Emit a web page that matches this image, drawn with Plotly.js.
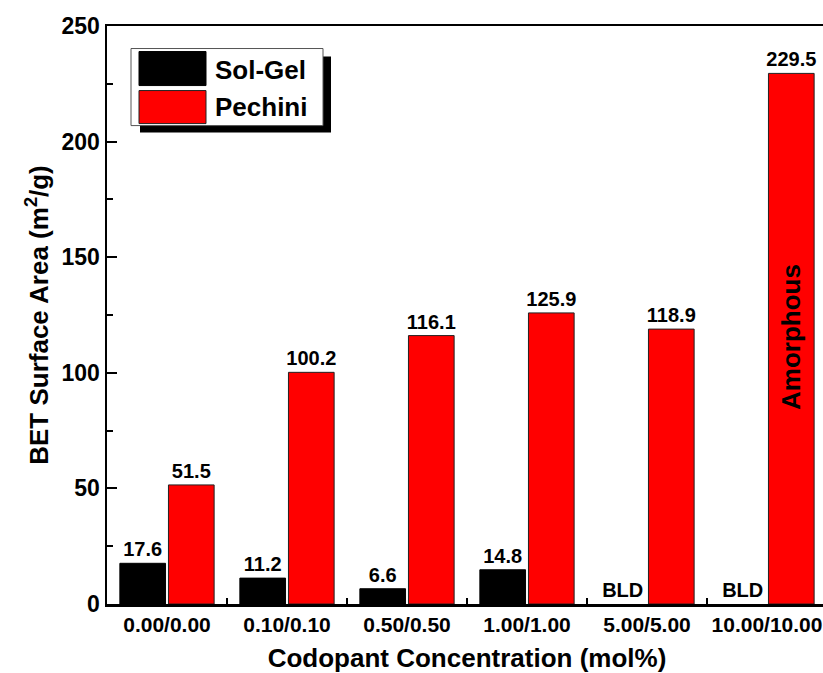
<!DOCTYPE html>
<html>
<head>
<meta charset="utf-8">
<script src="https://cdn.plot.ly/plotly-3.0.1.min.js"></script>
<style>
html, body { margin: 0; padding: 0; overflow: hidden; background: #fff; }
#chart { width: 840px; height: 673px; }
</style>
</head>
<body>
<div id="chart"></div>
<script>
// ---- data ----
const categories = ["0.00/0.00", "0.10/0.10", "0.50/0.50", "1.00/1.00", "5.00/5.00", "10.00/10.00"];
const solGelValues = [17.6, 11.2, 6.6, 14.8, 0, 0];
const solGelLabels = ["17.6", "11.2", "6.6", "14.8", "BLD", "BLD"];
const pechiniValues = [51.5, 100.2, 116.1, 125.9, 118.9, 229.5];
const pechiniLabels = ["51.5", "100.2", "116.1", "125.9", "118.9", "229.5"];
const seriesNames = ["Sol-Gel", "Pechini"];
const yTicks = [0, 50, 100, 150, 200, 250];
const amorphousNote = "Amorphous";

const FONT = "Arial, 'Liberation Sans', sans-serif";
const bold = (size) => ({ family: FONT, size: size, color: "#000", weight: "bold" });

const traces = [
  {
    type: "bar", name: seriesNames[0], x: categories, y: solGelValues,
    text: solGelLabels, textposition: "outside", cliponaxis: false, constraintext: "none",
    textfont: bold(20), hoverinfo: "x+y",
    marker: { color: "#000000", line: { color: "#000000", width: solGelValues.map(v => v > 0 ? 1 : 0) } }
  },
  {
    type: "bar", name: seriesNames[1], x: categories, y: pechiniValues,
    text: pechiniLabels, textposition: "outside", cliponaxis: false, constraintext: "none",
    textfont: bold(20), hoverinfo: "x+y",
    marker: { color: "#ff0000", line: { color: "#222222", width: 1 } }
  }
];

const px2x = (p) => (p - 107) / 720;
const px2y = (p) => (604 - p) / 577.5;

const layout = {
  width: 840, height: 673,
  margin: { l: 107, r: 13, t: 26, b: 69 },
  paper_bgcolor: "#fff", plot_bgcolor: "#fff",
  showlegend: false,
  barmode: "group", bargap: 0.19, bargroupgap: 0.06,
  font: { family: FONT, color: "#000" },
  xaxis: {
    type: "category", range: [-0.5, 5.5], tickangle: 0,
    showline: true, linecolor: "#000", linewidth: 2.5, mirror: true,
    ticks: "inside", tickson: "boundaries", ticklen: 6, tickwidth: 2, tickcolor: "#000",
    tickfont: bold(21), showgrid: false, zeroline: false,
    title: { text: "Codopant Concentration (mol%)", font: bold(26), standoff: 14 }
  },
  yaxis: {
    range: [0, 250], tickvals: yTicks, ticktext: yTicks.map(String),
    showline: true, linecolor: "#000", linewidth: 2.5, mirror: true,
    ticks: "inside", ticklen: 10, tickwidth: 2, tickcolor: "#000",
    minor: { dtick: 25, ticks: "inside", ticklen: 6, tickwidth: 2, tickcolor: "#000", showgrid: false },
    tickfont: bold(23), showgrid: false, zeroline: false,
    title: { text: "BET Surface Area (m<sup>2</sup>/g)", font: bold(26), standoff: 6 }
  },
  shapes: [
    { type: "rect", xref: "paper", yref: "paper", x0: px2x(140), x1: px2x(331), y0: px2y(133), y1: px2y(57),
      fillcolor: "#000", line: { width: 0 }, layer: "above" },
    { type: "rect", xref: "paper", yref: "paper", x0: px2x(131), x1: px2x(323), y0: px2y(126), y1: px2y(49),
      fillcolor: "#fff", line: { color: "#555", width: 1 }, layer: "above" },
    { type: "rect", xref: "paper", yref: "paper", x0: px2x(139), x1: px2x(206), y0: px2y(86), y1: px2y(52),
      fillcolor: "#000", line: { color: "#000", width: 1 }, layer: "above" },
    { type: "rect", xref: "paper", yref: "paper", x0: px2x(139), x1: px2x(206), y0: px2y(124), y1: px2y(91),
      fillcolor: "#ff0000", line: { color: "#222", width: 1 }, layer: "above" }
  ],
  annotations: [
    { xref: "paper", yref: "paper", x: px2x(213), y: px2y(70), xanchor: "left", yanchor: "middle",
      text: seriesNames[0], showarrow: false, font: bold(26) },
    { xref: "paper", yref: "paper", x: px2x(213), y: px2y(107), xanchor: "left", yanchor: "middle",
      text: seriesNames[1], showarrow: false, font: bold(26) },
    { xref: "x", yref: "y", x: categories[5], y: 115.5, xshift: 24, textangle: -90,
      text: amorphousNote, showarrow: false, font: bold(26) }
  ]
};

Plotly.newPlot("chart", traces, layout, { displayModeBar: false, staticPlot: true });
</script>
</body>
</html>
